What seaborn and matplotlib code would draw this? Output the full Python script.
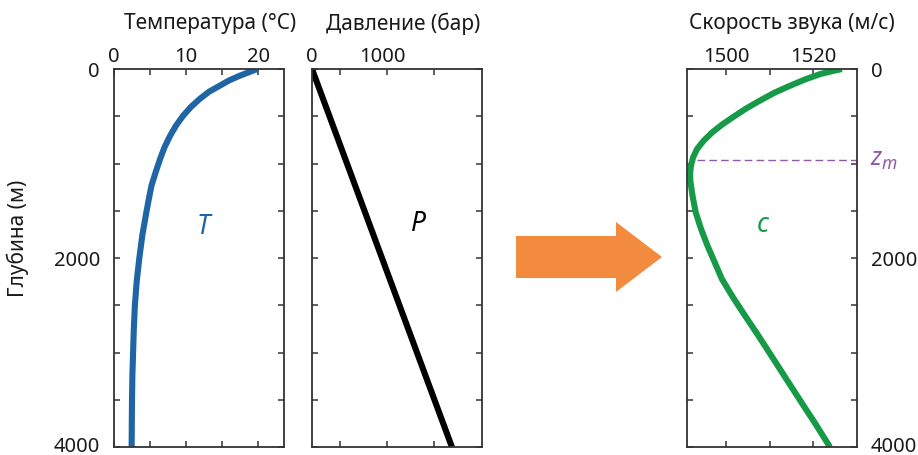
import matplotlib
matplotlib.use('Agg')
import matplotlib.pyplot as plt
import matplotlib.transforms as mtransforms
import seaborn as sns
import pandas as pd
from matplotlib.patches import Polygon

# ---------------- data ----------------
temp_depth = [0, 35, 70, 120, 176, 240, 317, 400, 494, 600, 705, 830, 952, 1100, 1235,
              1370, 1513, 1750, 2010, 2250, 2500, 2750, 3000, 3250, 3500, 3750, 4000]
temp_vals = [19.9, 18.7, 17.5, 16.0, 14.7, 13.2, 11.9, 10.7, 9.6, 8.6, 7.8, 7.0, 6.4, 5.75, 5.2,
             4.85, 4.5, 3.95, 3.5, 3.15, 2.9, 2.75, 2.65, 2.55, 2.5, 2.47, 2.45]

pres_depth = [0, 4000]
pres_vals = [0, 2000]

c_depth = [0, 25, 53, 110, 176, 250, 335, 420, 511, 590, 670, 760, 847, 935, 1023, 1110,
           1199, 1350, 1517, 1690, 1870, 2040, 2222, 2420, 2610, 2810, 3016, 3260, 3510,
           3750, 4000]
c_vals = [1526.5, 1524.1, 1521.6, 1518.1, 1514.7, 1511.1, 1507.7, 1504.5, 1501.5, 1499.0,
          1496.8, 1494.8, 1493.3, 1492.4, 1491.9, 1491.7, 1491.8, 1492.3, 1493.0, 1494.2,
          1495.7, 1497.3, 1499.0, 1501.6, 1504.3, 1507.2, 1510.1, 1513.5, 1517.0, 1520.4,
          1523.8]

zm_depth = 960

titles = ['Температура (°C)', 'Давление (бар)', 'Скорость звука (м/с)']
ylabel = 'Глубина (м)'
depth_ticks = [0, 2000, 4000]
depth_minor = [500, 1000, 1500, 2500, 3000, 3500]
temp_ticks = [0, 10, 20]
temp_minor = [5, 15]
pres_ticks = [0, 1000]
pres_minor = [400, 1070, 1740]
c_ticks = [1500, 1520]
c_minor = [1510]

BLUE = '#1f65a6'
GREEN = '#169a48'
PURPLE = '#8e5aa6'
ORANGE = '#f28b3d'
DARK = '#333333'
TXT = '#1a1a1a'

# ---------------- style ----------------
sns.set_style('white')
plt.rcParams['font.family'] = ['Noto Sans', 'DejaVu Sans']
plt.rcParams['mathtext.fontset'] = 'custom'
plt.rcParams['mathtext.it'] = 'Noto Sans:italic'
plt.rcParams['mathtext.rm'] = 'Noto Sans'

W, H = 918, 456
fig = plt.figure(figsize=(W / 100, H / 100), dpi=100)


def axes_px(x0, x1, y0=70, y1=448):
    return fig.add_axes([x0 / W, 1 - y1 / H, (x1 - x0) / W, (y1 - y0) / H])


ax1 = axes_px(114, 284)
ax2 = axes_px(312, 482)
ax3 = axes_px(687, 857)

df_t = pd.DataFrame({'x': temp_vals, 'depth': temp_depth})
df_p = pd.DataFrame({'x': pres_vals, 'depth': pres_depth})
df_c = pd.DataFrame({'x': c_vals, 'depth': c_depth})

for ax, df, col in [(ax1, df_t, BLUE), (ax2, df_p, 'black'), (ax3, df_c, GREEN)]:
    sns.lineplot(data=df, x='x', y='depth', sort=False, estimator=None, color=col,
                 lw=4.4, ax=ax, solid_capstyle='butt', solid_joinstyle='round')
    ax.set_xlabel('')
    ax.set_ylabel('')
    ax.set_ylim(4000, 0)
    ax.set_yticks(depth_ticks)
    ax.set_yticks(depth_minor, minor=True)
    for s in ax.spines.values():
        s.set_color(DARK)
        s.set_linewidth(1.3)
        s.set_visible(True)
    ax.tick_params(axis='both', which='both', direction='in', top=True, bottom=True,
                   left=True, right=True, labeltop=True, labelbottom=False,
                   length=4.5, width=1.1, color=DARK, labelcolor=TXT,
                   labelsize=14.5)
    ax.tick_params(axis='x', pad=2.5)
    ax.tick_params(axis='y', pad=10)

ax1.set_xlim(0, 23.6)
ax1.set_xticks(temp_ticks)
ax1.set_xticks(temp_minor, minor=True)
ax1.tick_params(axis='y', labelleft=True, labelright=False)

ax2.set_xlim(0, 2430)
ax2.set_xticks(pres_ticks)
ax2.set_xticks(pres_minor, minor=True)
ax2.tick_params(axis='x', which='major', length=0)
ax2.tick_params(axis='y', labelleft=False, labelright=False)

ax3.set_xlim(1491, 1530)
ax3.set_xticks(c_ticks)
ax3.set_xticks(c_minor, minor=True)
ax3.tick_params(axis='y', labelleft=False, labelright=True)

# nudge the bottom depth labels up slightly so they stay inside the figure
shift = mtransforms.ScaledTranslation(0, 3 / 100, fig.dpi_scale_trans)
for ax in (ax1, ax3):
    t = ax.yaxis.get_major_ticks()[-1]
    t.label1.set_transform(t.label1.get_transform() + shift)
    t.label2.set_transform(t.label2.get_transform() + shift)

# curve labels
ax1.text(12.4, 1660, 'T', style='italic', color=BLUE, fontsize=19, ha='center', va='center')
ax2.text(1515, 1630, 'P', style='italic', color='black', fontsize=19, ha='center', va='center')
ax3.text(1508.3, 1640, 'c', style='italic', color=GREEN, fontsize=19, ha='center', va='center')

# z_m line
ax3.axhline(zm_depth, xmin=0.06, xmax=1, color=PURPLE, lw=1.0, ls=(0, (5.5, 3)))
fig.text(870 / W, 1 - 160 / H, r'$z_m$', color=PURPLE, fontsize=18, ha='left', va='center')

# titles
for xc, t in zip([210, 403, 792], titles):
    fig.text(xc / W, 1 - 24 / H, t, ha='center', va='center', fontsize=15, color=TXT)
fig.text(18 / W, 1 - 238 / H, ylabel, rotation=90, ha='center', va='center',
         fontsize=15, color=TXT)

# arrow
arrow_px = [(516, 237), (616, 237), (616, 223), (662, 258), (616, 293), (616, 279), (516, 279)]
fig.patches.append(Polygon([(x / W, 1 - y / H) for x, y in arrow_px], closed=True,
                           transform=fig.transFigure, facecolor=ORANGE, edgecolor='none'))

fig.savefig('out.png', dpi=100)
